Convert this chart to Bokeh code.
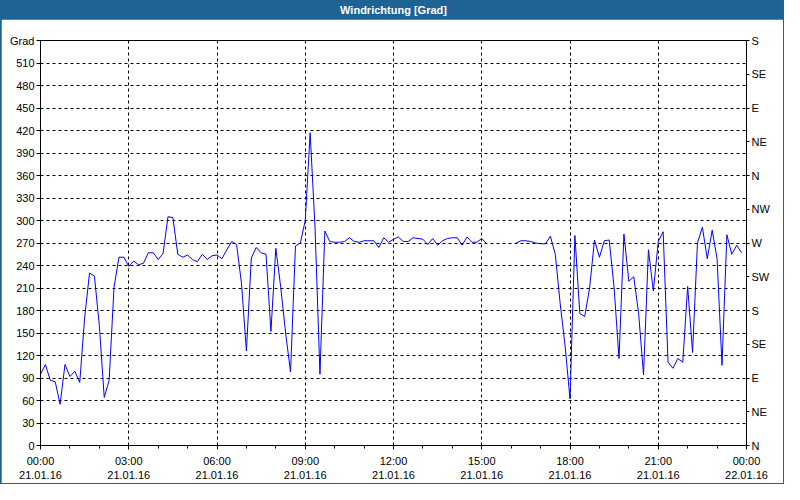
import numpy as np
from bokeh.plotting import figure
from bokeh.models import Range1d, LinearAxis, FixedTicker, ColumnDataSource
from bokeh.layouts import column
from bokeh.core.properties import value
from bokeh.embed import file_html
from bokeh.resources import INLINE

nan = float("nan")

title_text = "Windrichtung [Grad]"

# 10-minute samples from 21.01.16 00:00 (sample index -> hours = index / 6)
step_minutes = 10
wind_dir = [
    95, 108, 87, 85, 55, 108, 92, 99, 84, 170,
    230, 226, 160, 64, 87, 211, 251, 251, 239, 246,
    241, 243, 257, 257, 248, 256, 305, 304, 255, 251,
    254, 248, 245, 255, 248, 253, 254, 249, 261, 272,
    268, 216, 126, 250, 264, 257, 255, 152, 263, 211,
    150, 98, 266, 270, 300, 417, 290, 95, 286, 272,
    271, 271, 272, 277, 272, 271, 273, 273, 273, 264,
    277, 271, 275, 278, 272, 272, 277, 276, 275, 268,
    276, 267, 273, 276, 277, 277, 267, 278, 271, 271,
    276, 269, nan, nan, nan, nan, nan, 270, 273, 273,
    272, 270, 269, 269, 279, 255, 189, 133, 62, 280,
    176, 172, 210, 274, 251, 273, 274, 210, 116, 282,
    219, 225, 176, 94, 261, 206, 272, 285, 111, 103,
    116, 111, 212, 124, 270, 291, 249, 287, 249, 107,
    281, 255, 267, 257,
]
hours = [i * step_minutes / 60 for i in range(len(wind_dir))]

x_tick_hours = [0, 3, 6, 9, 12, 15, 18, 21, 24]
x_tick_labels = [
    "00:00\n21.01.16", "03:00\n21.01.16", "06:00\n21.01.16",
    "09:00\n21.01.16", "12:00\n21.01.16", "15:00\n21.01.16",
    "18:00\n21.01.16", "21:00\n21.01.16", "00:00\n22.01.16",
]
x_minor_hours = list(range(0, 25))

y_ticks = [0, 30, 60, 90, 120, 150, 180, 210, 240, 270, 300, 330, 360,
           390, 420, 450, 480, 510, 540]
y_labels = ["0", "30", "60", "90", "120", "150", "180", "210", "240",
            "270", "300", "330", "360", "390", "420", "450", "480", "510", "Grad"]

compass_ticks = [0, 45, 90, 135, 180, 225, 270, 315, 360, 405, 450, 495, 540]
compass_labels = ["N", "NE", "E", "SE", "S", "SW", "W", "NW", "N", "NE", "E", "SE", "S"]

BAR = "#1F6394"
FONT = "Liberation Sans"

# ---- title bar ----
tf = figure(width=782, height=19, x_range=Range1d(0, 1), y_range=Range1d(0, 1),
            output_backend="svg", toolbar_location=None, min_border=0)
tf.axis.visible = False
tf.grid.visible = False
tf.background_fill_color = BAR
tf.border_fill_color = BAR
tf.outline_line_color = None
tf.text(x=[0.5], y=[0.5], text=[title_text], text_align="center",
        text_baseline="middle", text_color="white", text_font=value(FONT),
        text_font_style="bold", text_font_size="11px")

# ---- main chart ----
p = figure(width=782, height=464, x_range=Range1d(0, 24), y_range=Range1d(0, 540),
           output_backend="svg", toolbar_location=None,
           min_border_left=39, min_border_right=37, min_border_top=21,
           min_border_bottom=37)
p.background_fill_color = "white"
p.border_fill_color = "white"
p.outline_line_color = "black"
p.outline_line_width = 1

src = ColumnDataSource(data=dict(x=hours, y=wind_dir))
p.line("x", "y", source=src, line_color="#0000FF", line_width=1)

xa = p.xaxis[0]
xa.ticker = FixedTicker(ticks=x_tick_hours, minor_ticks=x_minor_hours)
xa.major_label_overrides = {h: lab for h, lab in zip(x_tick_hours, x_tick_labels)}
xa.major_tick_out = 4
xa.major_tick_in = 0
xa.minor_tick_out = 3
xa.minor_tick_in = 0
xa.major_label_standoff = 5

ya = p.yaxis[0]
ya.ticker = FixedTicker(ticks=y_ticks, minor_ticks=[])
ya.major_label_overrides = {t: lab for t, lab in zip(y_ticks, y_labels)}
ya.major_tick_out = 4
ya.major_tick_in = 0
ya.minor_tick_line_color = None
ya.major_label_standoff = 2

ra = LinearAxis(ticker=FixedTicker(ticks=compass_ticks, minor_ticks=[]))
ra.major_label_overrides = {t: lab for t, lab in zip(compass_ticks, compass_labels)}
ra.major_tick_out = 3
ra.major_tick_in = 0
ra.minor_tick_line_color = None
ra.major_label_standoff = 2
p.add_layout(ra, "right")

for ax in (xa, ya, ra):
    ax.axis_line_color = "black"
    ax.major_tick_line_color = "black"
    ax.major_label_text_font = FONT
    ax.major_label_text_font_size = "11px"
    ax.major_label_text_color = "black"
xa.minor_tick_line_color = "black"

p.xgrid.ticker = FixedTicker(ticks=x_tick_hours, minor_ticks=[])
p.ygrid.ticker = FixedTicker(ticks=y_ticks, minor_ticks=[])
for g in (p.xgrid, p.ygrid):
    g.grid_line_color = "black"
    g.grid_line_dash = "3 3"
    g.grid_line_width = 1
    g.grid_line_alpha = 1.0

layout = column(tf, p, spacing=0,
                styles={"background-color": BAR, "padding": "0px 1px 1px 1px"})

open("out.html", "w").write(file_html(layout, INLINE))
